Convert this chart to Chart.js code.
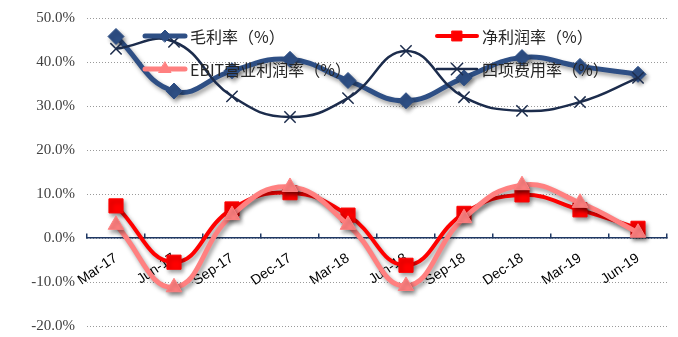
<!DOCTYPE html>
<html>
<head>
<meta charset="utf-8">
<script src="https://cdn.jsdelivr.net/npm/chart.js@4/dist/chart.umd.min.js"></script>
<style>
  html, body { margin: 0; padding: 0; background: #ffffff; }
  #wrap { width: 678px; height: 337px; }
</style>
</head>
<body>
<div id="wrap"><canvas id="c" width="678" height="337"></canvas></div>
<script>
// Quarter labels
const categories = ['Mar-17', 'Jun-17', 'Sep-17', 'Dec-17', 'Mar-18', 'Jun-18', 'Sep-18', 'Dec-18', 'Mar-19', 'Jun-19'];

// Ratios in percent
const grossMargin = [45.8, 33.4, 38.0, 40.6, 35.8, 31.2, 36.4, 41.0, 39.0, 37.2];
const netMargin   = [7.3, -5.5, 6.6, 10.3, 5.2, -6.2, 5.6, 9.8, 6.4, 2.2];
const ebitMargin  = [3.0, -11.2, 5.2, 11.6, 3.0, -10.9, 4.5, 12.0, 8.0, 1.2];
const expenseRate = [43.0, 44.6, 32.2, 27.5, 31.8, 42.5, 32.0, 28.9, 30.9, 36.4];

// Value axis ticks
const yTicks = [-20, -10, 0, 10, 20, 30, 40, 50];

// Series names
const seriesNames = ['毛利率（%）', '净利润率（%）', 'EBIT营业利润率（%）', '四项费用率（%）'];

const datasets = [
  {
    label: seriesNames[0], data: grossMargin,
    borderColor: '#2E4F85', backgroundColor: '#2E4F85',
    borderWidth: 5, pointStyle: 'rectRot', pointRadius: 8,
    pointBackgroundColor: '#2E4F85', pointBorderColor: '#2E4F85', pointBorderWidth: 1,
    tension: 0.45, order: 3, shadow: true,
    legendPos: [145, 36], legendRadius: 6
  },
  {
    label: seriesNames[1], data: netMargin,
    borderColor: '#FF0000', backgroundColor: '#FF0000',
    borderWidth: 4, pointStyle: 'rect', pointRadius: 10,
    pointBackgroundColor: '#FF0000', pointBorderColor: '#FF0000', pointBorderWidth: 1,
    tension: 0.45, order: 2, shadow: true,
    legendPos: [437, 36], legendRadius: 7
  },
  {
    label: seriesNames[2], data: ebitMargin,
    borderColor: '#FF8080', backgroundColor: '#FF8080',
    borderWidth: 5, pointStyle: 'triangle', pointRadius: 9,
    pointBackgroundColor: '#FF8080', pointBorderColor: '#FF8080', pointBorderWidth: 1,
    tension: 0.45, order: 1, shadow: true,
    legendPos: [145, 69], legendRadius: 7
  },
  {
    label: seriesNames[3], data: expenseRate,
    borderColor: '#1C2C4C', backgroundColor: '#1C2C4C',
    borderWidth: 2.5, pointStyle: 'crossRot', pointRadius: 8,
    pointBackgroundColor: '#1C2C4C', pointBorderColor: '#1C2C4C', pointBorderWidth: 1.5,
    tension: 0.45, order: 0, shadow: false,
    legendPos: [437, 69], legendRadius: 8
  }
];

// Soft drop shadow under the thick series
const shadowPlugin = {
  id: 'seriesShadow',
  beforeDatasetDraw(chart, args) {
    const ds = chart.data.datasets[args.index];
    const ctx = chart.ctx;
    ctx.save();
    if (ds.shadow) {
      ctx.shadowColor = 'rgba(0,0,0,0.38)';
      ctx.shadowBlur = 4;
      ctx.shadowOffsetX = 2;
      ctx.shadowOffsetY = 3;
    }
  },
  afterDatasetDraw(chart) {
    chart.ctx.restore();
  }
};

// Legend laid over the plot in two columns
const overlayLegend = {
  id: 'overlayLegend',
  afterDatasetsDraw(chart) {
    const ctx = chart.ctx;
    ctx.save();
    chart.data.datasets.forEach(ds => {
      const [x, y] = ds.legendPos;
      const w = 40;
      ctx.strokeStyle = ds.borderColor;
      ctx.lineWidth = ds.borderWidth;
      ctx.lineCap = 'round';
      ctx.beginPath();
      ctx.moveTo(x, y);
      ctx.lineTo(x + w, y);
      ctx.stroke();
      ctx.fillStyle = ds.borderColor;
      ctx.strokeStyle = ds.borderColor;
      ctx.lineWidth = ds.pointBorderWidth;
      Chart.helpers.drawPoint(ctx, {
        pointStyle: ds.pointStyle,
        radius: ds.legendRadius,
        borderWidth: ds.pointBorderWidth,
        rotation: 0
      }, x + w / 2, y);
      ctx.fillStyle = '#262626';
      ctx.font = '16px "Noto Sans CJK SC", sans-serif';
      ctx.textAlign = 'left';
      ctx.textBaseline = 'middle';
      ctx.fillText(ds.label, x + w + 5, y + 1);
    });
    ctx.restore();
  }
};

new Chart(document.getElementById('c'), {
  type: 'line',
  data: { labels: categories, datasets },
  options: {
    responsive: false,
    animation: false,
    layout: { padding: { top: 18, bottom: 10, left: 0, right: 0 } },
    plugins: {
      legend: { display: false },
      tooltip: { enabled: false }
    },
    scales: {
      x: {
        position: { y: 0 },
        offset: true,
        afterFit(scale) {
          scale.paddingTop = 0;
          scale.paddingBottom = 0;
          scale.paddingLeft = 0;
          scale.paddingRight = 0;
        },
        grid: {
          display: true,
          offset: true,
          drawOnChartArea: false,
          drawTicks: true,
          tickLength: -5,
          color: '#1F3864',
          lineWidth: 1.5
        },
        border: { display: true, color: '#1F3864', width: 1.5 },
        ticks: {
          color: '#000000',
          font: { family: '"Liberation Sans", Arial, sans-serif', size: 14 },
          minRotation: 34,
          maxRotation: 34,
          autoSkip: false,
          padding: 17
        }
      },
      y: {
        min: yTicks[0],
        max: yTicks[yTicks.length - 1],
        afterBuildTicks(scale) {
          scale.ticks = yTicks.map(v => ({ value: v }));
        },
        afterFit(scale) {
          scale.width = 87;
          scale.paddingTop = 0;
          scale.paddingBottom = 0;
        },
        grid: {
          color: '#9A9A9A',
          lineWidth: 1,
          drawTicks: false
        },
        border: { display: false, dash: [1, 2] },
        ticks: {
          color: '#404040',
          font: { family: '"Liberation Serif", serif', size: 15 },
          padding: 12,
          callback: v => v.toFixed(1) + '%'
        }
      }
    }
  },
  plugins: [shadowPlugin, overlayLegend]
});
</script>
</body>
</html>
